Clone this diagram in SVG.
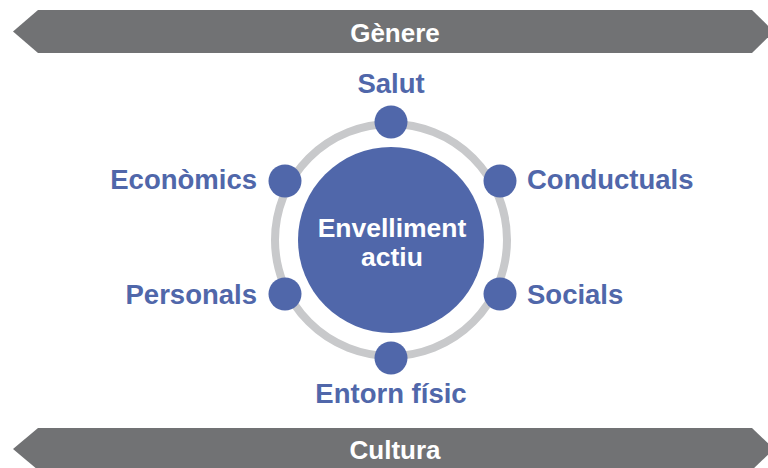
<svg xmlns="http://www.w3.org/2000/svg" width="768" height="468" viewBox="0 0 768 468">
<style>
.banner{fill:#717274}
.btxt{font-family:"Liberation Sans",Arial,sans-serif;font-weight:bold;font-size:26px;fill:#ffffff;text-anchor:middle}
.lbl{font-family:"Liberation Sans",Arial,sans-serif;font-weight:bold;font-size:27.5px;fill:#5067AA}
.dot{fill:#5067AA}
.ctxt{font-family:"Liberation Sans",Arial,sans-serif;font-weight:bold;font-size:26.5px;fill:#ffffff;text-anchor:middle}
</style>
<rect width="768" height="468" fill="#ffffff"/>
<g id="genere">
<path class="banner" d="M13,31.5 L38,10 L752,10 L774,31.5 L752,53 L38,53 Z"/>
<text class="btxt" x="395" y="42">Gènere</text>
</g>
<g id="cultura">
<path class="banner" d="M13,449 L38,428 L752,428 L774,449 L752,470 L38,470 Z"/>
<text class="btxt" x="395" y="459">Cultura</text>
</g>
<g id="connectors">
<circle cx="391" cy="240" r="116" fill="none" stroke="#C8C9CB" stroke-width="8"/>
</g>
<g id="center">
<circle class="dot" cx="391" cy="240" r="93"/>
<text class="ctxt" x="392" y="237">Envelliment</text>
<text class="ctxt" x="392" y="266">actiu</text>
</g>
<g id="salut">
<circle class="dot" cx="391" cy="122" r="16.5"/>
<text class="lbl" x="391" y="93" text-anchor="middle">Salut</text>
</g>
<g id="conductuals">
<circle class="dot" cx="500" cy="181" r="16.5"/>
<text class="lbl" x="527" y="189">Conductuals</text>
</g>
<g id="socials">
<circle class="dot" cx="500" cy="294" r="16.5"/>
<text class="lbl" x="527" y="304">Socials</text>
</g>
<g id="entorn">
<circle class="dot" cx="391" cy="358" r="16.5"/>
<text class="lbl" x="391" y="403" text-anchor="middle">Entorn físic</text>
</g>
<g id="personals">
<circle class="dot" cx="285" cy="294" r="16.5"/>
<text class="lbl" x="257" y="304" text-anchor="end">Personals</text>
</g>
<g id="economics">
<circle class="dot" cx="285" cy="181" r="16.5"/>
<text class="lbl" x="257" y="189" text-anchor="end">Econòmics</text>
</g>
</svg>
